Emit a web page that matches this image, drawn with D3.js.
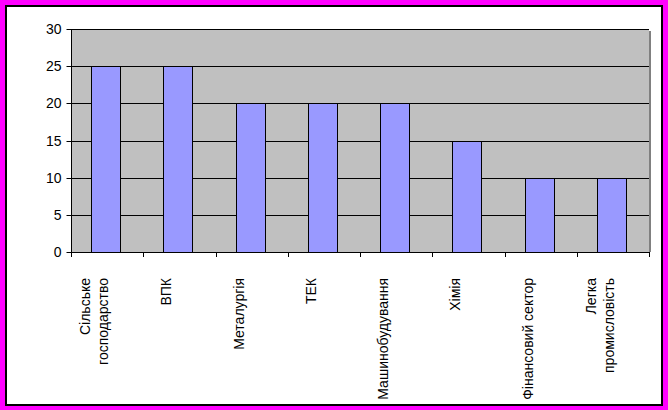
<!DOCTYPE html>
<html><head><meta charset="utf-8">
<script src="https://cdn.jsdelivr.net/npm/d3@7"></script>
<style>html,body{margin:0;padding:0;background:#FF00FF;}svg{display:block;}</style>
</head><body>
<script>
const categories = [["Сільське","господарство"],["ВПК"],["Металургія"],["ТЕК"],["Машинобудування"],["Хімія"],["Фінансовий сектор"],["Легка","промисловість"]];
const values = [25,25,20,20,20,15,10,10];
const yTicks = [0,5,10,15,20,25,30];

const W = 668, H = 410;
const svg = d3.select("body").append("svg").attr("width",W).attr("height",H);
svg.append("rect").attr("x",0).attr("y",0).attr("width",W).attr("height",H).attr("fill","#FF00FF");
svg.append("rect").attr("x",5).attr("y",5).attr("width",658).attr("height",401).attr("fill","#000");
svg.append("rect").attr("x",7).attr("y",7).attr("width",654).attr("height",397).attr("fill","#fff");

const L = 71, R = 649, T = 29, B = 252;
const keys = categories.map((c,i)=>i);
const x = d3.scaleBand().domain(keys).range([L,R]).padding(0);
const y = d3.scaleLinear().domain([0,30]).range([B,T]);

// shadow
svg.append("rect").attr("x",R).attr("y",T+2).attr("width",2).attr("height",B-T-2).attr("fill","#808080");
// plot area
svg.append("rect").attr("x",L).attr("y",T).attr("width",R-L).attr("height",B-T).attr("fill","#C0C0C0");

// grid
svg.append("g").selectAll("line").data(yTicks.filter(d=>d>0)).join("line")
  .attr("x1",L).attr("x2",R).attr("y1",d=>Math.round(y(d))+0.5).attr("y2",d=>Math.round(y(d))+0.5)
  .attr("stroke","#000").attr("stroke-width",1);

// bars
const bw = x.bandwidth();
const barW = 29;
svg.append("g").selectAll("rect").data(values).join("rect")
  .attr("x",(d,i)=>Math.floor(x(i)+(bw-barW)/2-1)+0.5)
  .attr("y",d=>Math.round(y(d))+0.5)
  .attr("width",barW)
  .attr("height",d=>Math.round(y(0))-Math.round(y(d)))
  .attr("fill","#9999FF").attr("stroke","#000").attr("stroke-width",1);

// y axis
const yAxis = d3.axisLeft(y).tickValues(yTicks).tickSize(5).tickPadding(5);
const gy = svg.append("g").attr("transform",`translate(${L+0.5},0)`).call(yAxis);
gy.select(".domain").attr("d",`M0,${T}V${B}`).attr("stroke","#000");
gy.selectAll(".tick line").attr("stroke","#000");
gy.selectAll(".tick text").attr("font-family","Liberation Sans, Arial, sans-serif").attr("font-size",14).attr("fill","#000");
gy.selectAll(".tick").attr("transform",d=>`translate(0,${Math.round(y(d))+0.5})`);

// x axis line and ticks between categories
svg.append("line").attr("x1",L).attr("x2",R+1).attr("y1",B+0.5).attr("y2",B+0.5).attr("stroke","#000");
const tickPos = keys.map(i=>x(i)).concat([R]);
svg.append("g").selectAll("line").data(tickPos).join("line")
  .attr("x1",d=>Math.round(d)+0.5).attr("x2",d=>Math.round(d)+0.5)
  .attr("y1",B).attr("y2",B+5).attr("stroke","#000");

// category labels rotated
const lg = svg.append("g");
categories.forEach((lines,i)=>{
  const cx = x(i)+bw/2;
  const n = lines.length;
  const lh = 18;
  const t = lg.append("text")
    .attr("transform",`translate(${cx},278) rotate(-90)`)
    .attr("text-anchor","end")
    .attr("font-family","Liberation Sans, Arial, sans-serif")
    .attr("font-size",14).attr("fill","#000");
  lines.forEach((s,j)=>{
    t.append("tspan").attr("x",0).attr("y",(j-(n-1)/2)*lh-8).text(s);
  });
});
</script>
</body></html>
